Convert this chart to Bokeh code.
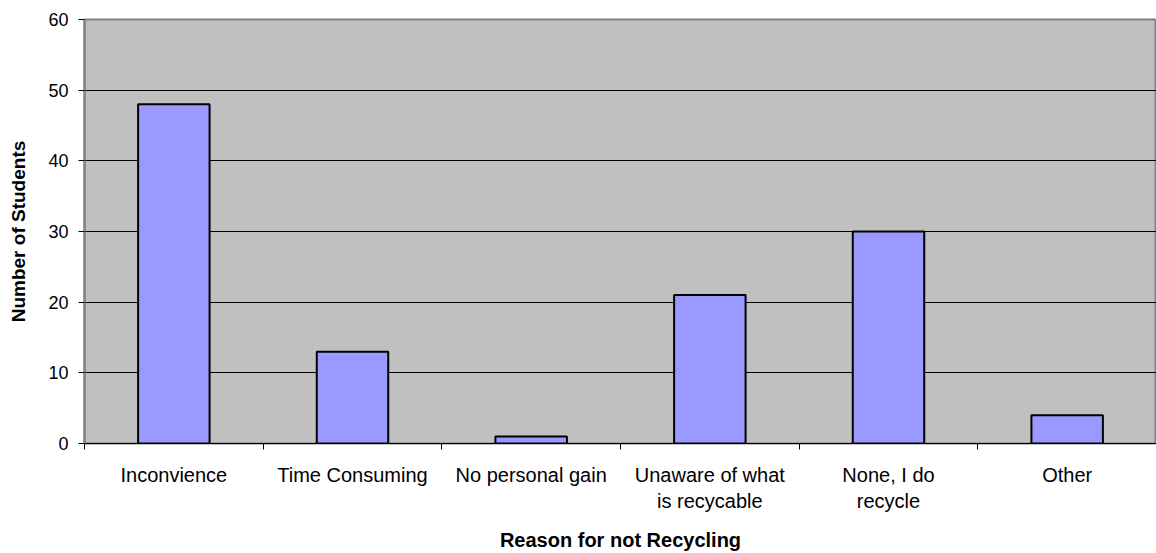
from bokeh.plotting import figure
from bokeh.models import FixedTicker, LinearAxis, Range1d, ColumnDataSource, Grid
from bokeh.embed import file_html
from bokeh.resources import INLINE

# Survey results: reasons students give for not recycling
reasons = [
    "Inconvience",
    "Time Consuming",
    "No personal gain",
    "Unaware of what\nis recycable",
    "None, I do\nrecycle",
    "Other",
]
students = [48, 13, 1, 21, 30, 4]
y_ticks = [0, 10, 20, 30, 40, 50, 60]

positions = [i + 0.5 for i in range(len(reasons))]
source = ColumnDataSource(dict(x=positions, count=students))

FONT = "Liberation Sans"

p = figure(
    width=1156, height=553,
    x_range=Range1d(0, len(reasons)), y_range=Range1d(0, 60),
    output_backend="svg", toolbar_location=None,
    x_axis_location=None, y_axis_location=None,
    min_border_left=84, min_border_right=0,
    min_border_top=19, min_border_bottom=110,
)
p.border_fill_color = "white"
p.background_fill_color = "#c0c0c0"
p.outline_line_color = "#808080"
p.outline_line_width = 2

p.xgrid.grid_line_color = None
p.ygrid.grid_line_color = None
p.add_layout(Grid(dimension=1, ticker=FixedTicker(ticks=y_ticks),
                  grid_line_color="black", grid_line_width=1))

p.vbar(x="x", top="count", width=0.4, source=source,
       fill_color="#9999ff", line_color="black", line_width=2)

# Y axis
yaxis = LinearAxis(ticker=FixedTicker(ticks=y_ticks))
yaxis.axis_line_color = "#808080"
yaxis.axis_line_width = 2
yaxis.major_tick_in = 0
yaxis.major_tick_out = 6
yaxis.major_tick_line_color = "black"
yaxis.minor_tick_line_color = None
yaxis.major_label_text_font = FONT
yaxis.major_label_text_font_size = "18px"
yaxis.major_label_text_color = "black"
yaxis.major_label_standoff = 10
yaxis.axis_label = "Number of Students"
yaxis.axis_label_text_font = FONT
yaxis.axis_label_text_font_size = "19px"
yaxis.axis_label_text_font_style = "bold"
yaxis.axis_label_text_color = "black"
yaxis.axis_label_standoff = 16
p.add_layout(yaxis, "left")

# X axis: tick marks at category boundaries, names centred under each bar
xaxis = LinearAxis(ticker=FixedTicker(ticks=list(range(len(reasons) + 1))))
xaxis.axis_line_color = "black"
xaxis.axis_line_width = 1
xaxis.major_tick_in = 0
xaxis.major_tick_out = 6
xaxis.major_tick_line_color = "black"
xaxis.minor_tick_line_color = None
xaxis.major_label_text_font_size = "0px"
xaxis.major_label_text_color = None
p.add_layout(xaxis, "below")

xlabels = LinearAxis(ticker=FixedTicker(ticks=positions))
xlabels.axis_line_color = None
xlabels.major_tick_line_color = None
xlabels.minor_tick_line_color = None
xlabels.major_label_overrides = {pos: name for pos, name in zip(positions, reasons)}
xlabels.major_label_text_font = FONT
xlabels.major_label_text_font_size = "20px"
xlabels.major_label_text_color = "black"
xlabels.major_label_standoff = 8
xlabels.axis_label = "Reason for not Recycling"
xlabels.axis_label_text_font = FONT
xlabels.axis_label_text_font_size = "20px"
xlabels.axis_label_text_font_style = "bold"
xlabels.axis_label_text_color = "black"
xlabels.axis_label_standoff = 14
p.add_layout(xlabels, "below")

open("out.html", "w").write(file_html(p, INLINE))
